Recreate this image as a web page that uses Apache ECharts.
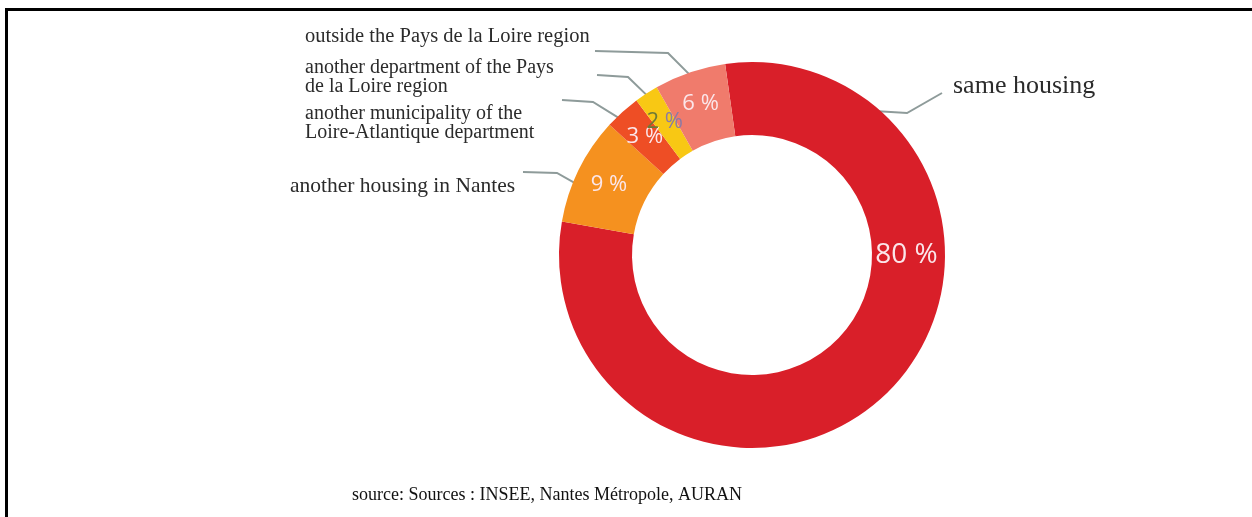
<!DOCTYPE html>
<html>
<head>
<meta charset="utf-8">
<script src="https://cdn.jsdelivr.net/npm/echarts@6/dist/echarts.min.js"></script>
<style>
  html, body { margin: 0; padding: 0; background: #ffffff; }
  #chart { position: absolute; left: 0; top: 0; width: 1252px; height: 517px; }
  #frame { position: absolute; left: 5px; top: 8px; width: 1247px; height: 509px;
           border-top: 3px solid #000; border-left: 3px solid #000; box-sizing: border-box; pointer-events: none; }
</style>
</head>
<body>
<div id="chart"></div>
<div id="frame"></div>
<script>
// ---- data ----
const categories = [
  'same housing',
  'another housing in Nantes',
  'another municipality of the\nLoire-Atlantique department',
  'another department of the Pays\nde la Loire region',
  'outside the Pays de la Loire region'
];
const values = [80, 9, 3, 2, 6];
const caption = 'source: Sources : INSEE, Nantes Métropole, AURAN';

// ---- styles / layout ----
const palette = ['#d91f29', '#f5911f', '#ee4e25', '#f8c814', '#f07b6c'];
const CX = 752, CY = 255, R_IN = 120, R_OUT = 193;
// name-label placement: [textLeft, textMiddleY, elbowX, elbowY, endX, endY, anchorAngleDeg|null, fontSize]
const nameLayout = [
  [953, 86, 907, 113, 942, 93, 49.6, 26],
  [290, 186, 557, 173, 523, 172, 158, 21.5],
  [305, 123, 593, 102, 562, 100, 134, 20],
  [305, 77, 628, 77, 597, 75, null, 20],
  [305, 37, 668, 53, 595, 51, null, 20.5]
];

const chart = echarts.init(document.getElementById('chart'), null, { renderer: 'canvas' });
const total = values.reduce((a, b) => a + b, 0);
const START = 98;
function midAngle(i) {
  let acc = 0;
  for (let k = 0; k < i; k++) acc += values[k];
  return START - (acc + values[i] / 2) / total * 360;
}
function polar(r, deg) {
  const a = deg * Math.PI / 180;
  return [CX + r * Math.cos(a), CY - r * Math.sin(a)];
}

const pctData = values.map((v, i) => ({
  name: categories[i],
  value: v,
  itemStyle: { color: palette[i] },
  label: i === 0 ? { fontSize: 28 } : {}
}));

option = {
  backgroundColor: '#ffffff',
  animation: false,
  title: {
    text: caption,
    left: 347,
    top: 481,
    textStyle: { fontFamily: 'Liberation Serif', fontSize: 18, fontWeight: 'normal', color: '#111111' }
  },
  series: [
    {
      type: 'pie',
      center: [CX, CY],
      radius: [R_IN, R_OUT],
      startAngle: START,
      clockwise: true,
      silent: true,
      avoidLabelOverlap: false,
      label: {
        show: true,
        position: 'inside',
        formatter: function (p) {
          if (p.dataIndex === 3) return '{a|' + p.value + '} {b|%}';
          return p.value + ' %';
        },
        fontFamily: 'Open Sans',
        fontSize: 22,
        color: '#fbe6ea',
        rich: {
          a: { fontFamily: 'Open Sans', fontSize: 22, color: '#6e7a36' },
          b: { fontFamily: 'Open Sans', fontSize: 22, color: '#8a7aa6' }
        }
      },
      labelLine: { show: false },
      labelLayout: function (p) {
        if (p.dataIndex === 0) {
          const pt = polar((R_IN + R_OUT) / 2, 0);
          return { x: pt[0] - 2, y: pt[1], align: 'center', verticalAlign: 'middle' };
        }
        return {};
      },
      data: pctData
    },
    {
      type: 'pie',
      center: [CX, CY],
      radius: [R_IN, R_OUT],
      startAngle: START,
      clockwise: true,
      silent: true,
      avoidLabelOverlap: false,
      itemStyle: { color: 'rgba(0,0,0,0)' },
      label: {
        show: true,
        position: 'outside',
        formatter: '{b}',
        fontFamily: 'Liberation Serif',
        fontSize: 20,
        lineHeight: 19,
        color: '#2b2b2b'
      },
      labelLine: { show: true, lineStyle: { color: '#8e9b9a', width: 2 } },
      labelLayout: function (p) {
        const L = nameLayout[p.dataIndex];
        const ang = L[6] === null ? midAngle(p.dataIndex) : L[6];
        const p0 = polar(R_OUT - 4, ang);
        return {
          x: L[0], y: L[1], align: 'left', verticalAlign: 'middle',
          labelLinePoints: [p0, [L[2], L[3]], [L[4], L[5]]]
        };
      },
      data: values.map((v, i) => ({
        name: categories[i], value: v,
        label: { fontSize: nameLayout[i][7], lineHeight: Math.round(nameLayout[i][7] * 0.95) }
      }))
    }
  ]
};
chart.setOption(option);
</script>
</body>
</html>
